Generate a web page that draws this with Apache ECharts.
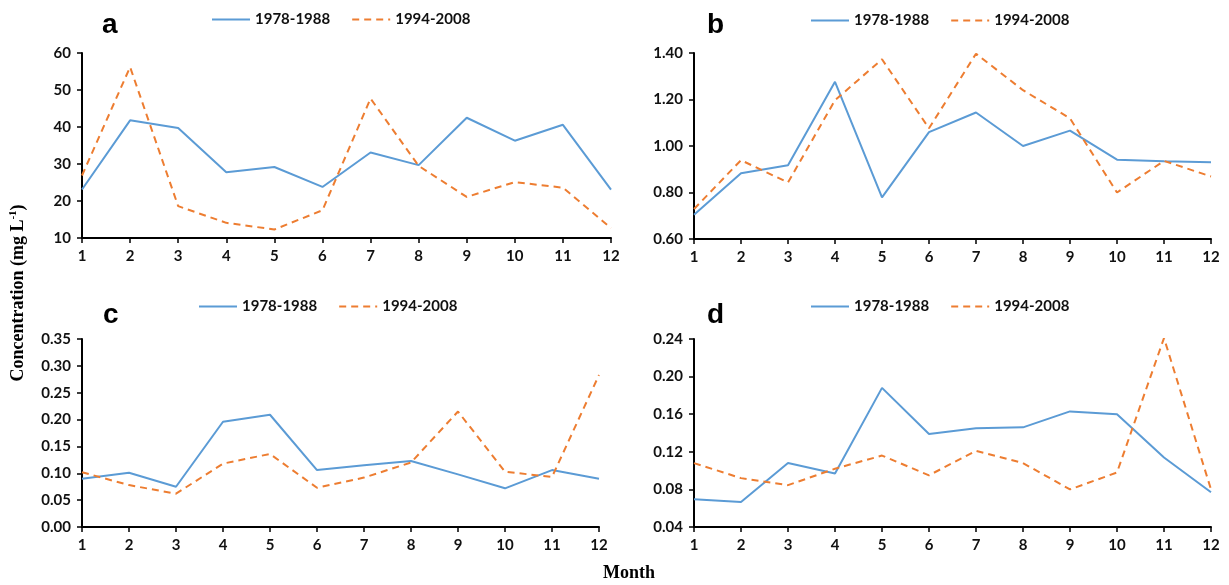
<!DOCTYPE html>
<html lang="en" style="height: 100%">

<head>
    <meta charset="UTF-8">
    <title>Monthly concentration 1978-1988 vs 1994-2008</title>
    <script src="https://cdn.jsdelivr.net/npm/echarts@6/dist/echarts.min.js"></script>
</head>

<body style="height: 100%; margin: 0; background: #fff">
    <div id="main" style="width: 1229px; height: 585px"></div>
    <script>
        // months on every x axis
        var months = ['1', '2', '3', '4', '5', '6', '7', '8', '9', '10', '11', '12'];
        var seriesNames = ['1978-1988', '1994-2008'];
        var panelLetters = ['a', 'b', 'c', 'd'];

        // values
        var a1 = [23.1, 41.8, 39.7, 27.8, 29.2, 23.8, 33.1, 29.7, 42.5, 36.3, 40.6, 23.1];
        var a2 = [26.9, 56.2, 18.6, 14.1, 12.3, 17.5, 47.7, 29.5, 21.1, 25.1, 23.6, 12.7];
        var b1 = [0.704, 0.883, 0.917, 1.276, 0.779, 1.06, 1.144, 1.0, 1.066, 0.941, 0.934, 0.93];
        var b2 = [0.729, 0.939, 0.843, 1.197, 1.373, 1.076, 1.397, 1.24, 1.119, 0.80, 0.936, 0.869];
        var c1 = [0.090, 0.101, 0.075, 0.196, 0.209, 0.106, 0.115, 0.123, 0.098, 0.072, 0.106, 0.090];
        var c2 = [0.102, 0.078, 0.062, 0.118, 0.136, 0.073, 0.092, 0.120, 0.215, 0.103, 0.093, 0.283];
        var d1 = [0.0695, 0.0667, 0.108, 0.097, 0.188, 0.139, 0.145, 0.146, 0.163, 0.160, 0.114, 0.077];
        var d2 = [0.108, 0.092, 0.0845, 0.102, 0.116, 0.095, 0.121, 0.108, 0.080, 0.098, 0.241, 0.080];

        // y axis ranges: [min, max, interval, decimals]
        var yRanges = [
            [10, 60, 10, 0],
            [0.6, 1.4, 0.2, 2],
            [0, 0.35, 0.05, 2],
            [0.04, 0.24, 0.04, 2]
        ];
        var panelData = [[a1, a2], [b1, b2], [c1, c2], [d1, d2]];

        var blue = '#5B9BD5';
        var orange = '#ED7D31';
        var labelFont = 'Lato, "Open Sans", sans-serif';

        var grids = [
            { left: 82, top: 53, width: 529, height: 185 },
            { left: 694, top: 53, width: 517, height: 186 },
            { left: 82, top: 339, width: 517, height: 188 },
            { left: 694, top: 339, width: 517, height: 188 }
        ];
        var legendPos = [[211, 12], [810, 13], [198, 299], [810, 299]];
        var letterPos = [[102, 25], [707, 25], [103, 315], [707, 315]];

        var myChart = echarts.init(document.getElementById('main'));

        var xAxes = [], yAxes = [], series = [], legends = [], graphics = [];
        for (var i = 0; i < 4; i++) {
            xAxes.push({
                type: 'category',
                gridIndex: i,
                data: months,
                boundaryGap: false,
                axisLine: { lineStyle: { color: '#000', width: 2 } },
                axisTick: { alignWithLabel: true, length: 5, lineStyle: { color: '#000', width: 1.5 } },
                axisLabel: { margin: 11, color: '#111', fontFamily: labelFont, fontWeight: 'bold', fontSize: 15 },
                splitLine: { show: false }
            });
            (function (r) {
                yAxes.push({
                    type: 'value',
                    gridIndex: i,
                    min: r[0],
                    max: r[1],
                    interval: r[2],
                    axisLine: { show: true, lineStyle: { color: '#000', width: 2 } },
                    axisTick: { show: true, length: 5, lineStyle: { color: '#000', width: 1.5 } },
                    axisLabel: {
                        margin: 11, color: '#111', fontFamily: labelFont, fontWeight: 'bold', fontSize: 15,
                        formatter: function (v) { return v.toFixed(r[3]); }
                    },
                    splitLine: { show: false }
                });
            })(yRanges[i]);
            series.push({
                name: seriesNames[0],
                type: 'line',
                xAxisIndex: i,
                yAxisIndex: i,
                data: panelData[i][0],
                symbol: 'none',
                lineStyle: { color: blue, width: 2 },
                itemStyle: { color: blue }
            }, {
                name: seriesNames[1],
                type: 'line',
                xAxisIndex: i,
                yAxisIndex: i,
                data: panelData[i][1],
                symbol: 'none',
                lineStyle: { color: orange, width: 2, type: [7, 5] },
                itemStyle: { color: orange }
            });
            legends.push({
                data: seriesNames,
                left: legendPos[i][0],
                top: legendPos[i][1],
                padding: 0,
                itemWidth: 38,
                itemHeight: 14,
                itemGap: 21,
                selectedMode: false,
                // hide the round marker, keep only the line sample
                itemStyle: { color: 'rgba(0,0,0,0)', borderColor: 'rgba(0,0,0,0)', borderWidth: 0, opacity: 0 },
                textStyle: { color: '#111', fontFamily: labelFont, fontWeight: 'bold', fontSize: 15 }
            });
            graphics.push({
                type: 'text',
                x: letterPos[i][0],
                y: letterPos[i][1],
                style: {
                    text: panelLetters[i],
                    font: 'bold 28px "Liberation Sans", Arial, sans-serif',
                    fill: '#000',
                    verticalAlign: 'middle'
                }
            });
        }

        // shared axis titles
        graphics.push({
            type: 'text',
            x: 18,
            y: 293,
            rotation: Math.PI / 2,
            style: {
                text: '{t|Concentration (mg L}{s|-1}{t|)}',
                align: 'center',
                verticalAlign: 'middle',
                rich: {
                    t: { font: 'bold 18px "Liberation Serif", "Times New Roman", serif', fill: '#000' },
                    s: { font: 'bold 11px "Liberation Serif", "Times New Roman", serif', fill: '#000', padding: [0, 0, 10, 0] }
                }
            }
        }, {
            type: 'text',
            x: 629,
            y: 573,
            style: {
                text: 'Month',
                font: 'bold 18px "Liberation Serif", "Times New Roman", serif',
                fill: '#000',
                align: 'center',
                verticalAlign: 'middle'
            }
        });

        var option = {
            animation: false,
            backgroundColor: '#fff',
            grid: grids,
            xAxis: xAxes,
            yAxis: yAxes,
            legend: legends,
            series: series,
            graphic: graphics
        };

        myChart.setOption(option);
        window.addEventListener('resize', myChart.resize);
    </script>
</body>

</html>
